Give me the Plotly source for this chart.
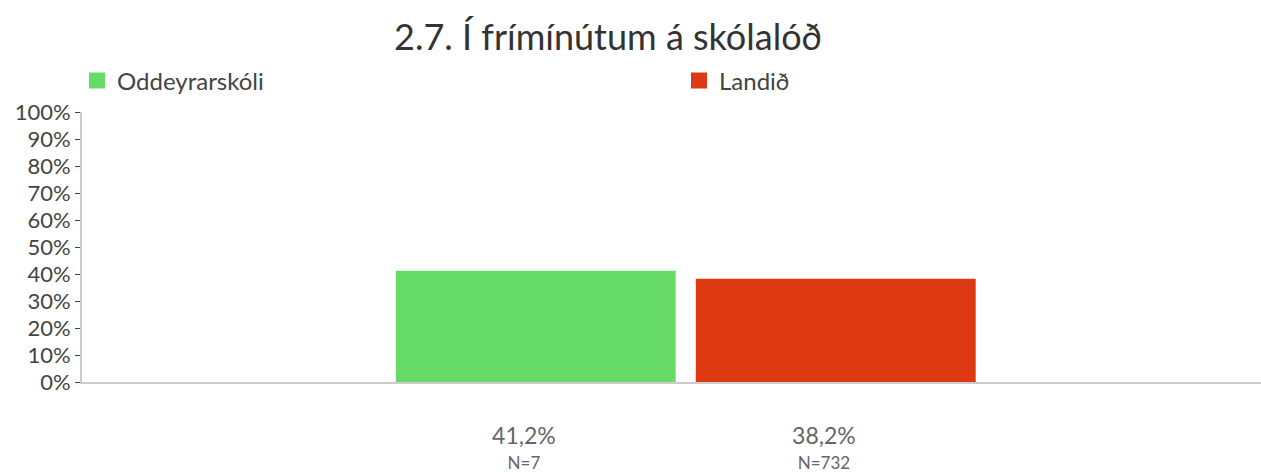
import plotly.graph_objects as go

# Share of answers per group
groups = ["Oddeyrarskóli", "Landið"]
values = [41.2, 38.2]
counts = [7, 732]
colors = ["#67DB67", "#DD3913"]

y_ticks = list(range(0, 101, 10))
y_tick_text = [f"{t}%" for t in y_ticks]


def bar_label(v, n):
    pct = f"{v:.1f}".replace(".", ",") + "%"
    return (f"<span style='font-size:23px'>{pct}</span><br>"
            f"<span style='font-size:17px'>N={n}</span>")


categories = [bar_label(v, n) for v, n in zip(values, counts)]

fig = go.Figure()
for name, cat, v, c in zip(groups, categories, values, colors):
    fig.add_trace(go.Bar(
        name=name,
        x=[cat],
        y=[v],
        width=0.933,
        offset=-0.427,
        marker=dict(color=c, line=dict(width=0)),
        hoverinfo="skip",
        showlegend=False,
    ))

# Legend entries with larger square swatches, one legend per group
legend_ids = ["legend", "legend2"]
for name, c, lg in zip(groups, colors, legend_ids):
    fig.add_trace(go.Scatter(
        name=name,
        x=[None],
        y=[None],
        mode="markers",
        marker=dict(symbol="square", size=16, color=c),
        showlegend=True,
        legend=lg,
        hoverinfo="skip",
    ))

font_family = "Lato, 'Open Sans', sans-serif"

legend_style = dict(
    orientation="h",
    xanchor="left",
    y=1 + (112 - 81) / 270,
    yanchor="middle",
    font=dict(size=24, color="#444444"),
    bgcolor="rgba(0,0,0,0)",
)

fig.update_layout(
    width=1261,
    height=472,
    margin=dict(l=82, r=0, t=112, b=90),
    paper_bgcolor="white",
    plot_bgcolor="white",
    barmode="overlay",
    font=dict(family=font_family, color="#444444", size=22),
    title=dict(
        text="2.7. Í frímínútum á skólalóð",
        x=608 / 1261,
        xanchor="center",
        y=1 - 37 / 472,
        yanchor="middle",
        font=dict(size=36, color="#333333", family=font_family),
    ),
    legend=dict(x=-5 / 1179, **legend_style),
    legend2=dict(x=597 / 1179, **legend_style),
    showlegend=True,
)

fig.update_xaxes(
    type="category",
    range=[-1.473, 2.457],
    automargin=False,
    showgrid=False,
    showline=True,
    linecolor="#cccccc",
    linewidth=2,
    ticks="",
    tickfont=dict(size=19, color="#666666"),
    ticklabelstandoff=37,
    zeroline=False,
)

fig.update_yaxes(
    range=[0, 100],
    automargin=False,
    tickvals=y_ticks,
    ticktext=y_tick_text,
    showgrid=False,
    showline=True,
    linecolor="#cccccc",
    linewidth=2,
    ticks="outside",
    ticklen=5,
    tickcolor="#444444",
    tickwidth=1,
    tickfont=dict(size=22, color="#444444"),
    zeroline=False,
)

fig.write_html("out.html")
